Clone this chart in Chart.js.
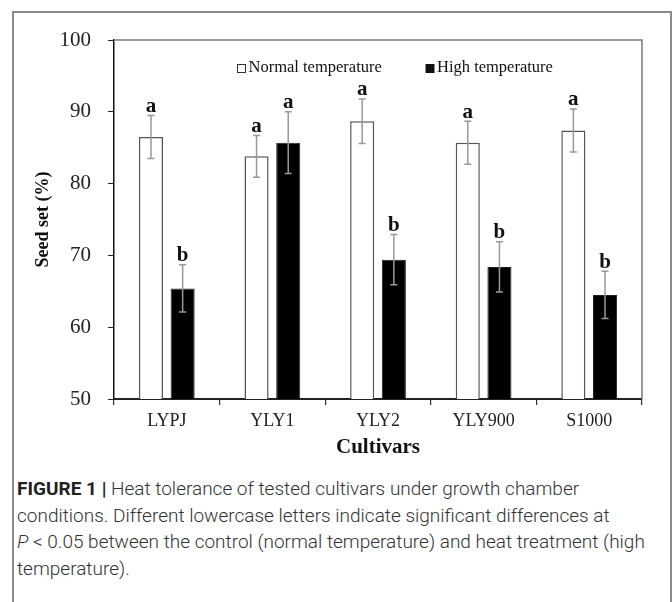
<!DOCTYPE html>
<html>
<head>
<meta charset="utf-8">
<script src="https://cdn.jsdelivr.net/npm/chart.js@4"></script>
<style>
  html, body { margin: 0; padding: 0; background: #fff; }
  #page { position: relative; width: 672px; height: 602px; overflow: hidden; }
  #frame { position: absolute; left: 12px; top: 11px; width: 660px; height: 620px;
           border: 2px solid #8a8a8a; box-sizing: border-box; }
  #chartBox { position: absolute; left: 0; top: 0; width: 672px; height: 470px; }
  #caption { position: absolute; left: 17px; top: 476px; width: 640px;
             font-family: Roboto, "Liberation Sans", Arial, sans-serif; font-weight: 300;
             font-size: 19px; line-height: 26.6px; color: #333; white-space: nowrap; }
  #caption b { color: #222; font-weight: 700; }
  #caption i { font-style: italic; }
</style>
</head>
<body>
<div id="page">
  <div id="frame"></div>
  <div id="chartBox"><canvas id="grafico" width="672" height="470"></canvas></div>
  <div id="caption">
    <b>FIGURE 1 |</b> Heat tolerance of tested cultivars under growth chamber<br>
    conditions. Different lowercase letters indicate significant differences at<br>
    <i>P</i> &lt; 0.05 between the control (normal temperature) and heat treatment (high<br>
    temperature).
  </div>
</div>
<script>
  const cultivares = ['LYPJ', 'YLY1', 'YLY2', 'YLY900', 'S1000'];
  const normal = [86.5, 83.8, 88.7, 85.7, 87.4];
  const normalErro = [3.0, 2.9, 3.1, 3.0, 3.0];
  const normalLetras = ['a', 'a', 'a', 'a', 'a'];
  const alta = [65.4, 85.7, 69.4, 68.4, 64.5];
  const altaErro = [3.3, 4.3, 3.5, 3.5, 3.3];
  const altaLetras = ['b', 'a', 'b', 'b', 'b'];
  const yTicks = [50, 60, 70, 80, 90, 100];

  const serif = '"Liberation Serif", "Times New Roman", serif';

  // error bars, letters, box edges and the inside legend
  const extras = {
    id: 'extras',
    afterDatasetsDraw(chart) {
      const ctx = chart.ctx;
      const y = chart.scales.y;
      const area = chart.chartArea;
      const erros = [normalErro, altaErro];
      const letras = [normalLetras, altaLetras];
      const valores = [normal, alta];

      ctx.save();
      // top and right edge of the plot box
      ctx.strokeStyle = '#7a7a7a';
      ctx.lineWidth = 1.5;
      ctx.beginPath();
      ctx.moveTo(area.left, area.top);
      ctx.lineTo(area.right, area.top);
      ctx.lineTo(area.right, area.bottom);
      ctx.stroke();

      for (let d = 0; d < 2; d++) {
        const meta = chart.getDatasetMeta(d);
        meta.data.forEach((bar, i) => {
          const v = valores[d][i];
          const e = erros[d][i];
          const yTop = y.getPixelForValue(v + e);
          const yBot = y.getPixelForValue(v - e);
          ctx.strokeStyle = '#999';
          ctx.lineWidth = 1.5;
          ctx.beginPath();
          ctx.moveTo(bar.x, yTop);
          ctx.lineTo(bar.x, yBot);
          ctx.moveTo(bar.x - 3.5, yTop);
          ctx.lineTo(bar.x + 3.5, yTop);
          ctx.moveTo(bar.x - 3.5, yBot);
          ctx.lineTo(bar.x + 3.5, yBot);
          ctx.stroke();

          ctx.fillStyle = '#111';
          ctx.font = 'bold 21px ' + serif;
          ctx.textAlign = 'center';
          ctx.textBaseline = 'alphabetic';
          ctx.fillText(letras[d][i], bar.x, yTop - 3.5);
        });
      }

      // legend
      ctx.font = '16.5px ' + serif;
      ctx.textBaseline = 'middle';
      ctx.textAlign = 'left';
      const ly = area.top + 28;
      ctx.lineWidth = 1;
      ctx.strokeStyle = '#333';
      ctx.fillStyle = '#fff';
      ctx.fillRect(237.5, ly - 3.5, 8, 8);
      ctx.strokeRect(237.5, ly - 3.5, 8, 8);
      ctx.fillStyle = '#111';
      ctx.fillText('Normal temperature', 248.5, ly);
      ctx.fillRect(425.5, ly - 4, 9, 9);
      ctx.fillText('High temperature', 437, ly);
      ctx.restore();
    }
  };

  new Chart(document.getElementById('grafico'), {
    type: 'bar',
    data: {
      labels: cultivares,
      datasets: [{
        label: 'Normal temperature',
        data: normal,
        backgroundColor: '#ffffff',
        borderColor: '#555555',
        borderWidth: 1.5,
        categoryPercentage: 0.6,
        barPercentage: 0.76
      }, {
        label: 'High temperature',
        data: alta,
        backgroundColor: '#000000',
        borderColor: '#222222',
        borderWidth: 1,
        categoryPercentage: 0.6,
        barPercentage: 0.76
      }]
    },
    options: {
      responsive: false,
      animation: false,
      layout: { padding: { left: 14, top: 40, right: 30, bottom: 10 } },
      plugins: {
        legend: { display: false },
        tooltip: { enabled: false }
      },
      scales: {
        x: {
          offset: true,
          grid: { offset: true, drawOnChartArea: false, tickLength: 6, color: '#333', lineWidth: 1.2 },
          border: { color: '#222', width: 2 },
          ticks: { color: '#222', font: { family: serif, size: 18 }, padding: 5 },
          title: { display: true, text: 'Cultivars', color: '#111',
                   font: { family: serif, size: 21, weight: 'bold' }, padding: { top: 0, bottom: 0 } },
          afterFit(scale) { scale.height = 61; }
        },
        y: {
          min: 50,
          max: 100,
          afterBuildTicks(scale) { scale.ticks = yTicks.map(v => ({ value: v })); },
          grid: { drawOnChartArea: false, tickLength: 6, color: '#222' },
          border: { color: '#111', width: 1.5 },
          ticks: { color: '#222', font: { family: serif, size: 21 }, padding: 17 },
          title: { display: true, text: 'Seed set (%)', color: '#111',
                   font: { family: serif, size: 18, weight: 'bold' }, padding: { top: 19, bottom: 0 } },
          afterFit(scale) { scale.width = 100; }
        }
      }
    },
    plugins: [extras]
  });
</script>
</body>
</html>
